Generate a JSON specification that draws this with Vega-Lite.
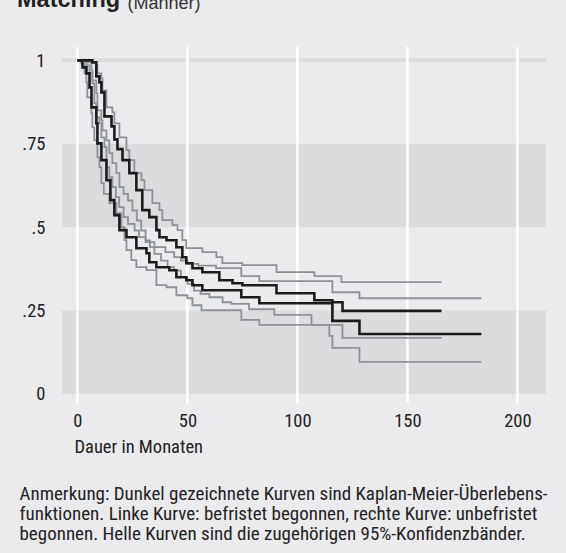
{
  "$schema": "https://vega.github.io/schema/vega-lite/v6.json",
  "width": 484,
  "height": 356,
  "autosize": {"type": "none"},
  "padding": {"left": 62, "top": 47, "right": 20, "bottom": 150},
  "background": "#ebebed",
  "config": {"view": {"stroke": null}, "font": "Roboto Condensed, DejaVu Sans Condensed, Liberation Sans"},
  "title": {
    "text": "Matching",
    "anchor": "start",
    "frame": "group",
    "font": "Liberation Sans",
    "fontSize": 23.5,
    "fontWeight": "bold",
    "color": "#222222",
    "dx": -45,
    "offset": -17
  },
  "resolve": {"axis": {"y": "independent"}},
  "datasets": {
    "bands": [{"lo": 0, "hi": 0.25}, {"lo": 0.5, "hi": 0.75}],
    "ticks": [{"t": 0}, {"t": 50}, {"t": 100}, {"t": 150}, {"t": 200}],
    "top": [{"v": 1}],
    "km": [
      {"curve": "A", "t": 0, "s": 1}, {"curve": "A", "t": 2.3, "s": 0.979}, {"curve": "A", "t": 4.1, "s": 0.961}, {"curve": "A", "t": 5.5, "s": 0.919}, {"curve": "A", "t": 6.4, "s": 0.859}, {"curve": "A", "t": 8.6, "s": 0.811}, {"curve": "A", "t": 9.1, "s": 0.751}, {"curve": "A", "t": 10.9, "s": 0.701}, {"curve": "A", "t": 13.2, "s": 0.641}, {"curve": "A", "t": 15, "s": 0.581}, {"curve": "A", "t": 16.8, "s": 0.536}, {"curve": "A", "t": 19.1, "s": 0.491}, {"curve": "A", "t": 22.3, "s": 0.47}, {"curve": "A", "t": 26.8, "s": 0.437}, {"curve": "A", "t": 31.4, "s": 0.422}, {"curve": "A", "t": 32.7, "s": 0.395}, {"curve": "A", "t": 35.9, "s": 0.38}, {"curve": "A", "t": 41.8, "s": 0.371}, {"curve": "A", "t": 45, "s": 0.35}, {"curve": "A", "t": 49.5, "s": 0.341}, {"curve": "A", "t": 52.3, "s": 0.326}, {"curve": "A", "t": 56.8, "s": 0.311}, {"curve": "A", "t": 74.5, "s": 0.29}, {"curve": "A", "t": 82.7, "s": 0.272}, {"curve": "A", "t": 115.9, "s": 0.219}, {"curve": "A", "t": 128.2, "s": 0.18}, {"curve": "A", "t": 183.6, "s": 0.18},
      {"curve": "B", "t": 0, "s": 1}, {"curve": "B", "t": 6.8, "s": 0.994}, {"curve": "B", "t": 8.6, "s": 0.952}, {"curve": "B", "t": 10, "s": 0.934}, {"curve": "B", "t": 10.9, "s": 0.904}, {"curve": "B", "t": 12.3, "s": 0.832}, {"curve": "B", "t": 15.5, "s": 0.802}, {"curve": "B", "t": 16.8, "s": 0.763}, {"curve": "B", "t": 18.2, "s": 0.734}, {"curve": "B", "t": 20.5, "s": 0.701}, {"curve": "B", "t": 23.6, "s": 0.662}, {"curve": "B", "t": 26.8, "s": 0.611}, {"curve": "B", "t": 29.5, "s": 0.551}, {"curve": "B", "t": 32.7, "s": 0.53}, {"curve": "B", "t": 35.9, "s": 0.491}, {"curve": "B", "t": 37.3, "s": 0.47}, {"curve": "B", "t": 40.5, "s": 0.461}, {"curve": "B", "t": 45, "s": 0.44}, {"curve": "B", "t": 47.7, "s": 0.41}, {"curve": "B", "t": 49.5, "s": 0.392}, {"curve": "B", "t": 52.3, "s": 0.377}, {"curve": "B", "t": 56.8, "s": 0.365}, {"curve": "B", "t": 64.5, "s": 0.341}, {"curve": "B", "t": 70.5, "s": 0.332}, {"curve": "B", "t": 75, "s": 0.326}, {"curve": "B", "t": 90.5, "s": 0.302}, {"curve": "B", "t": 107.7, "s": 0.281}, {"curve": "B", "t": 115.9, "s": 0.275}, {"curve": "B", "t": 120.5, "s": 0.249}, {"curve": "B", "t": 165.5, "s": 0.249}
    ],
    "ci": [
      {"curve": "BU", "t": 0, "s": 1}, {"curve": "BU", "t": 6.8, "s": 0.994}, {"curve": "BU", "t": 8.6, "s": 0.985}, {"curve": "BU", "t": 9.1, "s": 0.961}, {"curve": "BU", "t": 10.9, "s": 0.946}, {"curve": "BU", "t": 11.4, "s": 0.91}, {"curve": "BU", "t": 13.2, "s": 0.859}, {"curve": "BU", "t": 15.9, "s": 0.844}, {"curve": "BU", "t": 16.8, "s": 0.811}, {"curve": "BU", "t": 19.1, "s": 0.769}, {"curve": "BU", "t": 22.3, "s": 0.731}, {"curve": "BU", "t": 23.6, "s": 0.701}, {"curve": "BU", "t": 25.9, "s": 0.662}, {"curve": "BU", "t": 29.1, "s": 0.641}, {"curve": "BU", "t": 30.5, "s": 0.611}, {"curve": "BU", "t": 34.1, "s": 0.572}, {"curve": "BU", "t": 37.3, "s": 0.551}, {"curve": "BU", "t": 38.6, "s": 0.521}, {"curve": "BU", "t": 43.2, "s": 0.506}, {"curve": "BU", "t": 45.5, "s": 0.491}, {"curve": "BU", "t": 47.7, "s": 0.461}, {"curve": "BU", "t": 49.5, "s": 0.437}, {"curve": "BU", "t": 56.8, "s": 0.425}, {"curve": "BU", "t": 63.2, "s": 0.41}, {"curve": "BU", "t": 65.9, "s": 0.392}, {"curve": "BU", "t": 75, "s": 0.386}, {"curve": "BU", "t": 90.5, "s": 0.365}, {"curve": "BU", "t": 107.7, "s": 0.353}, {"curve": "BU", "t": 120, "s": 0.335}, {"curve": "BU", "t": 165.5, "s": 0.335},
      {"curve": "AU", "t": 0, "s": 1}, {"curve": "AU", "t": 4.1, "s": 0.985}, {"curve": "AU", "t": 5.5, "s": 0.961}, {"curve": "AU", "t": 6.8, "s": 0.931}, {"curve": "AU", "t": 7.7, "s": 0.871}, {"curve": "AU", "t": 8.6, "s": 0.829}, {"curve": "AU", "t": 10, "s": 0.811}, {"curve": "AU", "t": 10.9, "s": 0.769}, {"curve": "AU", "t": 12.3, "s": 0.74}, {"curve": "AU", "t": 13.2, "s": 0.68}, {"curve": "AU", "t": 14.5, "s": 0.65}, {"curve": "AU", "t": 15.9, "s": 0.62}, {"curve": "AU", "t": 17.5, "s": 0.59}, {"curve": "AU", "t": 19, "s": 0.56}, {"curve": "AU", "t": 21, "s": 0.53}, {"curve": "AU", "t": 23, "s": 0.51}, {"curve": "AU", "t": 26, "s": 0.49}, {"curve": "AU", "t": 28, "s": 0.47}, {"curve": "AU", "t": 31, "s": 0.455}, {"curve": "AU", "t": 35, "s": 0.44}, {"curve": "AU", "t": 40, "s": 0.425}, {"curve": "AU", "t": 44, "s": 0.41}, {"curve": "AU", "t": 47, "s": 0.4}, {"curve": "AU", "t": 50, "s": 0.39}, {"curve": "AU", "t": 55, "s": 0.385}, {"curve": "AU", "t": 63, "s": 0.377}, {"curve": "AU", "t": 74.5, "s": 0.353}, {"curve": "AU", "t": 82.7, "s": 0.338}, {"curve": "AU", "t": 115.9, "s": 0.305}, {"curve": "AU", "t": 128.2, "s": 0.287}, {"curve": "AU", "t": 183.6, "s": 0.287},
      {"curve": "AL", "t": 0, "s": 1}, {"curve": "AL", "t": 1.8, "s": 0.991}, {"curve": "AL", "t": 3.2, "s": 0.961}, {"curve": "AL", "t": 4.1, "s": 0.934}, {"curve": "AL", "t": 4.5, "s": 0.889}, {"curve": "AL", "t": 6.4, "s": 0.841}, {"curve": "AL", "t": 6.8, "s": 0.799}, {"curve": "AL", "t": 7.7, "s": 0.76}, {"curve": "AL", "t": 9.1, "s": 0.71}, {"curve": "AL", "t": 10, "s": 0.68}, {"curve": "AL", "t": 10.9, "s": 0.632}, {"curve": "AL", "t": 12, "s": 0.6}, {"curve": "AL", "t": 14.5, "s": 0.572}, {"curve": "AL", "t": 17.7, "s": 0.542}, {"curve": "AL", "t": 20, "s": 0.5}, {"curve": "AL", "t": 21.4, "s": 0.461}, {"curve": "AL", "t": 22.3, "s": 0.431}, {"curve": "AL", "t": 24.5, "s": 0.401}, {"curve": "AL", "t": 26.8, "s": 0.38}, {"curve": "AL", "t": 31.4, "s": 0.371}, {"curve": "AL", "t": 35.9, "s": 0.326}, {"curve": "AL", "t": 40.5, "s": 0.32}, {"curve": "AL", "t": 45, "s": 0.296}, {"curve": "AL", "t": 50, "s": 0.287}, {"curve": "AL", "t": 52.3, "s": 0.266}, {"curve": "AL", "t": 56.4, "s": 0.251}, {"curve": "AL", "t": 74.5, "s": 0.222}, {"curve": "AL", "t": 82.7, "s": 0.207}, {"curve": "AL", "t": 114.5, "s": 0.174}, {"curve": "AL", "t": 115.9, "s": 0.138}, {"curve": "AL", "t": 128.2, "s": 0.096}, {"curve": "AL", "t": 183.6, "s": 0.096},
      {"curve": "BL", "t": 0, "s": 1}, {"curve": "BL", "t": 4.5, "s": 0.994}, {"curve": "BL", "t": 6.4, "s": 0.97}, {"curve": "BL", "t": 6.8, "s": 0.94}, {"curve": "BL", "t": 8.6, "s": 0.901}, {"curve": "BL", "t": 9.1, "s": 0.85}, {"curve": "BL", "t": 10.9, "s": 0.82}, {"curve": "BL", "t": 11.4, "s": 0.79}, {"curve": "BL", "t": 13.2, "s": 0.76}, {"curve": "BL", "t": 14.5, "s": 0.722}, {"curve": "BL", "t": 15.9, "s": 0.692}, {"curve": "BL", "t": 17.7, "s": 0.662}, {"curve": "BL", "t": 19.1, "s": 0.62}, {"curve": "BL", "t": 21, "s": 0.6}, {"curve": "BL", "t": 23, "s": 0.58}, {"curve": "BL", "t": 25, "s": 0.55}, {"curve": "BL", "t": 27, "s": 0.52}, {"curve": "BL", "t": 29, "s": 0.49}, {"curve": "BL", "t": 31, "s": 0.46}, {"curve": "BL", "t": 33, "s": 0.44}, {"curve": "BL", "t": 35, "s": 0.42}, {"curve": "BL", "t": 38, "s": 0.4}, {"curve": "BL", "t": 41, "s": 0.38}, {"curve": "BL", "t": 44, "s": 0.37}, {"curve": "BL", "t": 47, "s": 0.35}, {"curve": "BL", "t": 50, "s": 0.33}, {"curve": "BL", "t": 53, "s": 0.31}, {"curve": "BL", "t": 56, "s": 0.3}, {"curve": "BL", "t": 60, "s": 0.29}, {"curve": "BL", "t": 66, "s": 0.275}, {"curve": "BL", "t": 70, "s": 0.27}, {"curve": "BL", "t": 78, "s": 0.254}, {"curve": "BL", "t": 89.5, "s": 0.237}, {"curve": "BL", "t": 106.4, "s": 0.207}, {"curve": "BL", "t": 120.5, "s": 0.168}, {"curve": "BL", "t": 165.5, "s": 0.168}
    ]
  },
  "layer": [
    {
      "data": {"name": "bands"},
      "mark": {"type": "rect", "color": "#dcdcdf"},
      "encoding": {
        "x": {"datum": -7, "type": "quantitative", "scale": {"domain": [-7, 213], "nice": false, "zero": false}},
        "x2": {"datum": 213},
        "y": {
          "field": "lo", "type": "quantitative",
          "scale": {"domain": [-0.027, 1.04], "nice": false, "zero": false},
          "axis": {
            "values": [0, 0.25, 0.5, 0.75, 1],
            "labelExpr": "replace(format(datum.value, '.2~f'), '0.', '.')",
            "domain": false, "ticks": false, "grid": false,
            "labelPadding": 17, "labelFontSize": 18.5, "labelColor": "#222222",
            "title": ["Anmerkung: Dunkel gezeichnete Kurven sind Kaplan-Meier-Überlebens-", "funktionen. Linke Kurve: befristet begonnen, rechte Kurve: unbefristet", "begonnen. Helle Kurven sind die zugehörigen 95%-Konfidenzbänder."],
            "titleAngle": 0, "titleX": -43, "titleY": 452, "titleAlign": "left", "titleBaseline": "alphabetic",
            "titleFontSize": 19, "titleFontWeight": "normal",
            "titleLineHeight": 20, "titleColor": "#222222"
          }
        },
        "y2": {"field": "hi"}
      }
    },
    {
      "data": {"name": "top"},
      "mark": {"type": "rule", "color": "#dcdcdf", "strokeWidth": 4},
      "encoding": {
        "y": {
          "field": "v", "type": "quantitative",
          "axis": {
            "orient": "right", "labels": false, "domain": false, "ticks": false, "grid": false,
            "title": "(Männer)",
            "titleAngle": 0, "titleX": -419, "titleY": -39, "titleAlign": "left", "titleBaseline": "alphabetic",
            "titleFont": "Liberation Sans", "titleFontSize": 18, "titleFontWeight": "normal", "titleColor": "#333333"
          }
        }
      }
    },
    {
      "data": {"name": "ticks"},
      "mark": {"type": "rule", "color": "#ffffff", "strokeWidth": 2.5},
      "encoding": {
        "x": {
          "field": "t", "type": "quantitative",
          "axis": {
            "values": [0, 50, 100, 150, 200],
            "domain": false, "ticks": false, "grid": false,
            "labelPadding": 8, "labelFontSize": 18.5, "labelColor": "#222222",
            "title": "Dauer in Monaten",
            "titleAnchor": "start", "titleAlign": "left", "titleX": 12, "titleY": 49, "titleBaseline": "alphabetic",
            "titleFontSize": 18.5, "titleFontWeight": "normal", "titleColor": "#222222"
          }
        }
      }
    },
    {
      "data": {"name": "ci"},
      "mark": {"type": "line", "interpolate": "step-after", "color": "#8b9399", "strokeWidth": 1.8},
      "encoding": {
        "x": {"field": "t", "type": "quantitative"},
        "y": {"field": "s", "type": "quantitative", "axis": null},
        "detail": {"field": "curve"}
      }
    },
    {
      "data": {"name": "km"},
      "mark": {"type": "line", "interpolate": "step-after", "color": "#1c1c1c", "strokeWidth": 2.6},
      "encoding": {
        "x": {"field": "t", "type": "quantitative"},
        "y": {"field": "s", "type": "quantitative", "axis": null},
        "detail": {"field": "curve"}
      }
    }
  ]
}
